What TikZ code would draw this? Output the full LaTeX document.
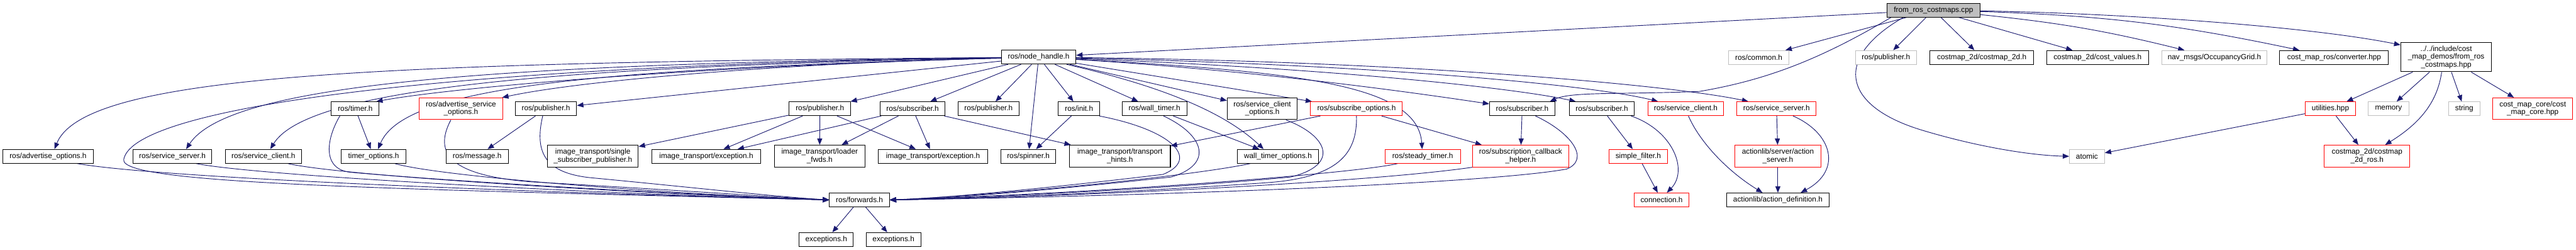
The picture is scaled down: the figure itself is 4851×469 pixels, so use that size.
\documentclass[tikz,border=0pt]{standalone}
\usepackage{fontspec}
\setmainfont{Liberation Sans}
\usetikzlibrary{arrows.meta}
\definecolor{edgec}{RGB}{25,25,112}
\definecolor{grayb}{RGB}{191,191,191}
\pgfdeclarelayer{bg}
\pgfsetlayers{bg,main}
\tikzset{
 box/.style={draw=black, line width=1.2pt, fill=white, inner sep=0pt, align=center, font=\fontsize{14}{14.5}\selectfont, minimum height=26pt},
 rbox/.style={box, draw=red},
 gbox/.style={box, draw=grayb},
 two/.style={minimum height=41pt},
 e/.style={draw=edgec, line width=1.1pt, -{Triangle[length=12pt,width=9.5pt]}},
}
\begin{document}
\begin{tikzpicture}[x=1pt,y=-1pt]
\useasboundingbox (0,0) rectangle (4851,469);
\begin{pgfonlayer}{bg}
\fill[white] (0,0) rectangle (4851,469);
\end{pgfonlayer}
% nodes
\node[box, fill=grayb, minimum width=176pt] (root) at (3641,19) {from\_ros\_costmaps.cpp};
\node[box, minimum width=140pt] (nh) at (1956,107.5) {ros/node\_handle.h};
\node[gbox, minimum width=114pt] (common) at (3312,108) {ros/common.h};
\node[gbox, minimum width=115pt] (pubg) at (3551.5,108) {ros/publisher.h};
\node[box, minimum width=196pt] (cm2d) at (3732,108) {costmap\_2d/costmap\_2d.h};
\node[box, minimum width=192pt] (costval) at (3950,108) {costmap\_2d/cost\_values.h};
\node[gbox, minimum width=198pt] (nav) at (4170,108) {nav\_msgs/OccupancyGrid.h};
\node[box, minimum width=205pt] (conv) at (4395.5,108) {cost\_map\_ros/converter.hpp};
\node[box, minimum width=171pt, minimum height=55pt] (hpp) at (4606.5,107.5) {../../include/cost\\\_map\_demos/from\_ros\\\_costmaps.hpp};
\node[rbox, minimum width=95pt] (util) at (4388.5,204.5) {utilities.hpp};
\node[gbox, minimum width=76pt] (memory) at (4498,204.5) {memory};
\node[gbox, minimum width=59pt] (string) at (4640.5,204.5) {string};
\node[rbox, two, minimum width=151pt] (core) at (4769.5,204.5) {cost\_map\_core/cost\\\_map\_core.hpp};
\node[rbox, two, minimum width=161pt] (cmros) at (4457.5,293.5) {costmap\_2d/costmap\\\_2d\_ros.h};
\node[gbox, minimum width=66pt] (atomic) at (3930,294) {atomic};
\node[rbox, two, minimum width=162pt] (actsrv) at (3348,293.5) {actionlib/server/action\\\_server.h};
\node[box, minimum width=194pt] (actdef) at (3348,376) {actionlib/action\_definition.h};
\node[rbox, minimum width=149pt] (ssrvr) at (3345.5,204.5) {ros/service\_server.h};
\node[rbox, minimum width=143pt] (sclir) at (3174.5,204.5) {ros/service\_client.h};
\node[box, minimum width=123pt] (subc) at (3016.5,204.5) {ros/subscriber.h};
\node[box, minimum width=123pt] (subb) at (2866.5,204.5) {ros/subscriber.h};
\node[rbox, minimum width=173pt] (subopt) at (2554.5,204.5) {ros/subscribe\_options.h};
\node[box, two, minimum width=132pt] (sclopt) at (2377,204.5) {ros/service\_client\\\_options.h};
\node[box, minimum width=122pt] (wall) at (2174,204.5) {ros/wall\_timer.h};
\node[box, minimum width=78pt] (init) at (2032,204.5) {ros/init.h};
\node[box, minimum width=115pt] (pubc) at (1861.5,204.5) {ros/publisher.h};
\node[box, minimum width=123pt] (suba) at (1718.5,204.5) {ros/subscriber.h};
\node[box, minimum width=116pt] (pubb) at (1544,204.5) {ros/publisher.h};
\node[box, minimum width=116pt] (puba) at (1028,204.5) {ros/publisher.h};
\node[rbox, two, minimum width=158pt] (advsrv) at (868,204.5) {ros/advertise\_service\\\_options.h};
\node[box, minimum width=90pt] (timer) at (669,204.5) {ros/timer.h};
\node[box, minimum width=171pt] (advopt) at (90.5,294) {ros/advertise\_options.h};
\node[box, minimum width=149pt] (ssrv) at (324.5,294) {ros/service\_server.h};
\node[box, minimum width=144pt] (scli) at (496,294) {ros/service\_client.h};
\node[box, minimum width=121pt] (timeropt) at (703.5,294) {timer\_options.h};
\node[box, minimum width=117pt] (msg) at (898.5,294) {ros/message.h};
\node[box, two, minimum width=171pt] (ssp) at (1116.5,293.5) {image\_transport/single\\\_subscriber\_publisher.h};
\node[box, minimum width=206pt] (exca) at (1330,294) {image\_transport/exception.h};
\node[box, two, minimum width=171pt] (loader) at (1543.5,293.5) {image\_transport/loader\\\_fwds.h};
\node[box, minimum width=206pt] (excb) at (1757,294) {image\_transport/exception.h};
\node[box, minimum width=103pt] (spinner) at (1936.5,294) {ros/spinner.h};
\node[box, two, minimum width=190pt] (hints) at (2109,293.5) {image\_transport/transport\\\_hints.h};
\node[box, minimum width=153pt] (wallopt) at (2406.5,294) {wall\_timer\_options.h};
\node[rbox, minimum width=142pt] (steady) at (2679,294) {ros/steady\_timer.h};
\node[rbox, two, minimum width=181pt] (sch) at (2863.5,293.5) {ros/subscription\_callback\\\_helper.h};
\node[rbox, minimum width=110pt] (sfilter) at (3085,294) {simple\_filter.h};
\node[rbox, minimum width=104pt] (conn) at (3129,376) {connection.h};
\node[box, minimum width=113pt] (fwd) at (1618.5,376) {ros/forwards.h};
\node[box, minimum width=102pt] (exa) at (1556,450.5) {exceptions.h};
\node[box, minimum width=103pt] (exb) at (1682.5,450.5) {exceptions.h};
% edges
\begin{pgfonlayer}{bg}
% root
\draw[e] (root) -- (nh);
\draw[e] (root) -- (common);
\draw[e] (root) -- (pubg);
\draw[e] (root) -- (cm2d);
\draw[e] (root) -- (costval);
\draw[e] (root) to[bend left=4] (nav);
\draw[e] (root) to[bend left=5] (conv);
\draw[e] (root) .. controls (4000,25) and (4350,50) .. ([yshift=23pt]hpp.west);
\draw[e] ([xshift=9pt]root.south west) .. controls (3430,110) and (3330,150) .. (3200,172) .. controls (3050,178) and (2960,172) .. ([xshift=-10pt]subb.north east);
\draw[e] ([xshift=32pt]root.south west) .. controls (3450,110) and (3470,200) .. (3620,245) .. controls (3720,275) and (3820,292) .. (atomic.west);
% hpp
\draw[e] (hpp) -- (util);
\draw[e] (hpp) -- (memory);
\draw[e] (hpp) -- (string);
\draw[e] (hpp) -- (core);
\draw[e] ([xshift=-8.5pt]hpp.south) .. controls (4590,190) and (4560,230) .. (cmros);
\draw[e] (util) -- (cmros);
\draw[e] (util) -- (atomic);
% node_handle to the left
\draw[e] (nh) .. controls (700,118) and (160,140) .. ([xshift=12pt]advopt.north);
\draw[e] (nh) .. controls (900,120) and (430,160) .. ([xshift=26pt]ssrv.north);
\draw[e] (nh) .. controls (1050,125) and (580,165) .. ([xshift=13pt]scli.north);
\draw[e] (nh) .. controls (1300,125) and (850,165) .. ([xshift=-6pt]timer.north east);
\draw[e] (nh) .. controls (1100,130) and (760,165) .. ([xshift=8.5pt]timeropt.north);
\draw[e] (nh) .. controls (850,122) and (250,200) .. (233,300) .. controls (225,345) and (700,355) .. (fwd.west);
\draw[e] (nh) .. controls (1500,118) and (1100,150) .. ([xshift=-2pt]advsrv.north east);
\draw[e] (nh) -- (puba);
\draw[e] (nh) -- (pubb);
\draw[e] (nh) -- (suba);
\draw[e] (nh) -- (pubc);
\draw[e] (nh) -- (spinner);
\draw[e] (nh) -- (init);
\draw[e] (nh) -- (wall);
\draw[e] (nh) -- (sclopt);
\draw[e] (nh) -- (subopt);
\draw[e] ([xshift=-18pt]nh.south east) .. controls (2200,165) and (2310,215) .. ([xshift=-27pt]wallopt.north);
\draw[e] (nh) .. controls (2450,135) and (2670,160) .. (steady);
\draw[e] (nh) .. controls (2400,135) and (2700,180) .. (subb);
\draw[e] (nh) .. controls (2500,128) and (2850,165) .. ([xshift=13pt]subc.north west);
\draw[e] (nh) .. controls (2600,122) and (3000,160) .. ([xshift=20pt]sclir.north west);
\draw[e] (nh) .. controls (2650,115) and (3150,160) .. ([xshift=22pt]ssrvr.north west);
% timer
\draw[e] (timer) -- (timeropt);
\draw[e] ([xshift=-29pt]timer.south) .. controls (615,260) and (605,318) .. (660,324) .. controls (900,345) and (1300,366) .. (fwd.west);
% to forwards from the left
\draw[e] ([xshift=40pt]timeropt.south) .. controls (820,330) and (1200,362) .. (fwd.west);
\draw[e] ([xshift=55pt]advopt.south) .. controls (300,335) and (1000,362) .. (fwd.west);
\draw[e] ([xshift=45pt]ssrv.south) .. controls (480,330) and (1100,364) .. (fwd.west);
\draw[e] ([xshift=46pt]scli.south) .. controls (640,330) and (1150,362) .. (fwd.west);
\draw[e] ([xshift=-19pt]advsrv.south) .. controls (815,290) and (850,330) .. (1000,342) .. controls (1250,356) and (1450,370) .. (fwd.west);
\draw[e] ([xshift=-6pt]puba.south) .. controls (1005,290) and (1030,325) .. (1110,334) .. controls (1300,352) and (1450,369) .. (fwd.west);
\draw[e] (puba) -- (msg);
% publisher 2, subscriber 1
\draw[e] (pubb) -- (ssp);
\draw[e] (pubb) -- (exca);
\draw[e] (pubb) -- (loader);
\draw[e] (pubb) -- (excb);
\draw[e] (suba) -- (exca);
\draw[e] (suba) -- (excb);
\draw[e] (suba) -- (loader);
\draw[e] (suba) -- (hints);
% init, wall timer
\draw[e] (init) -- (spinner);
\draw[e] ([xshift=38pt]init.south) .. controls (2210,245) and (2260,300) .. (2190,328) .. controls (2050,345) and (1800,372) .. (fwd.east);
\draw[e] ([xshift=17pt]wall.south) .. controls (2270,255) and (2285,310) .. (2205,333) .. controls (2050,350) and (1800,374) .. (fwd.east);
\draw[e] (wall) -- (wallopt);
\draw[e] ([xshift=-52pt]wallopt.south) .. controls (2250,330) and (1900,366) .. (fwd.east);
\draw[e] ([xshift=-22pt]sclopt.south east) .. controls (2500,255) and (2525,310) .. (2430,333) .. controls (2200,355) and (1850,372) .. (fwd.east);
% subscribe options
\draw[e] (subopt.south) .. controls (2556,290) and (2520,335) .. (2380,344) .. controls (2150,360) and (1850,374) .. (fwd.east);
\draw[e] (subopt) -- (hints);
\draw[e] (subopt) -- (sch);
\draw[e] ([xshift=-47pt]steady.south) .. controls (2560,325) and (2100,362) .. (fwd.east);
\draw[e] (sch.south west) .. controls (2600,340) and (2100,368) .. (fwd.east);
% subscriber 2, 3
\draw[e] (subb) -- (sch);
\draw[e] ([xshift=25pt]subb.south) .. controls (2960,250) and (2995,300) .. (2950,318) .. controls (2800,345) and (2200,368) .. (fwd.east);
\draw[e] (subc) -- (sfilter);
\draw[e] ([xshift=55pt]subc.south) .. controls (3150,245) and (3180,320) .. ([xshift=10pt]conn.north);
\draw[e] (sfilter) -- (conn);
% services
\draw[e] ([xshift=5pt]sclir.south) .. controls (3200,265) and (3250,320) .. ([xshift=-29pt]actdef.north);
\draw[e] (ssrvr) -- (actsrv);
\draw[e] ([xshift=31pt]ssrvr.south) .. controls (3450,250) and (3470,320) .. ([xshift=43pt]actdef.north);
\draw[e] (actsrv) -- (actdef);
% forwards
\draw[e] (fwd) -- (exa);
\draw[e] (fwd) -- (exb);
\end{pgfonlayer}
\end{tikzpicture}
\end{document}
